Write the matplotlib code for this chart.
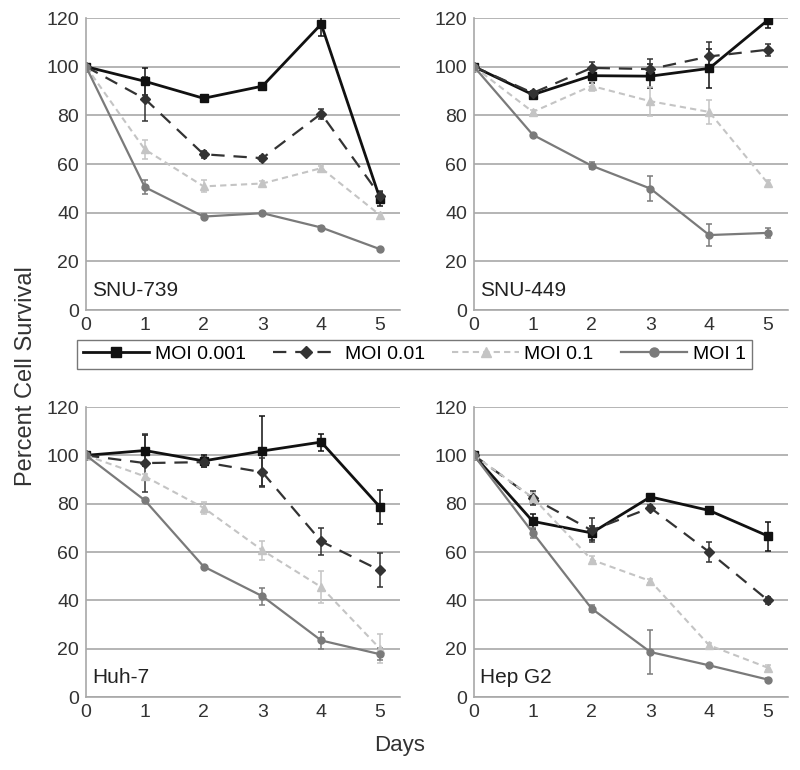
import matplotlib.pyplot as plt
from matplotlib.lines import Line2D

plt.rcParams['font.family'] = ['Liberation Sans', 'DejaVu Sans']

days = [0, 1, 2, 3, 4, 5]
series_names = ["MOI 0.001", "MOI 0.01", "MOI 0.1", "MOI 1"]
panel_names = ["SNU-739", "SNU-449", "Huh-7", "Hep G2"]

# SNU-739
snu739_moi0001 = [100, 94, 87, 92, 117.5, 45.7]
snu739_moi0001_err = [0, 5.5, 1, 1, 5, 3]
snu739_moi001 = [100, 86.8, 64, 62.4, 80.7, 47]
snu739_moi001_err = [0, 9, 1.5, 1, 2, 2]
snu739_moi01 = [100, 66, 50.8, 52, 58.3, 39]
snu739_moi01_err = [0, 4, 2.5, 1, 1, 1]
snu739_moi1 = [100, 50.5, 38.4, 39.8, 33.9, 25]
snu739_moi1_err = [0, 3, 1, 0.5, 0.5, 0.5]

# SNU-449
snu449_moi0001 = [100, 88.5, 96.3, 96.1, 99.3, 119.2]
snu449_moi0001_err = [0, 1, 3, 5, 8, 3.5]
snu449_moi001 = [100, 89.2, 99.5, 99, 104.2, 107]
snu449_moi001_err = [0, 1, 2.5, 4, 6, 2.5]
snu449_moi01 = [100, 81.4, 92.1, 85.8, 81.4, 52]
snu449_moi01_err = [0, 1, 2, 6, 5, 1.5]
snu449_moi1 = [100, 72, 59.3, 49.9, 30.8, 31.7]
snu449_moi1_err = [0, 0.5, 1.5, 5, 4.5, 2]

# Huh-7
huh7_moi0001 = [100, 102, 97.7, 101.8, 105.5, 78.6]
huh7_moi0001_err = [0, 6.3, 2.5, 14.6, 3.5, 7]
huh7_moi001 = [100, 96.8, 97.2, 93, 64.4, 52.4]
huh7_moi001_err = [0, 12, 2, 6, 5.5, 7]
huh7_moi01 = [100, 91.3, 78.3, 60.7, 45.5, 20]
huh7_moi01_err = [0, 1, 2.5, 4, 6.5, 6]
huh7_moi1 = [100, 81.4, 54, 41.7, 23.4, 17.7]
huh7_moi1_err = [0, 0.5, 0.5, 3.5, 3.5, 2.5]

# Hep G2
hepg2_moi0001 = [100, 72.7, 67.9, 82.8, 77.2, 66.6]
hepg2_moi0001_err = [0, 3, 3, 1, 1, 6]
hepg2_moi001 = [100, 82.3, 69, 78.3, 60, 40]
hepg2_moi001_err = [0, 3, 5, 1, 4, 1.5]
hepg2_moi01 = [100, 82.5, 56.8, 48, 21.4, 12.1]
hepg2_moi01_err = [0, 2, 1.5, 0.8, 1, 1]
hepg2_moi1 = [100, 68, 36.6, 18.6, 13.1, 7.2]
hepg2_moi1_err = [0, 2, 1.5, 9, 0.5, 0.5]

panels = [
    [(snu739_moi0001, snu739_moi0001_err), (snu739_moi001, snu739_moi001_err),
     (snu739_moi01, snu739_moi01_err), (snu739_moi1, snu739_moi1_err)],
    [(snu449_moi0001, snu449_moi0001_err), (snu449_moi001, snu449_moi001_err),
     (snu449_moi01, snu449_moi01_err), (snu449_moi1, snu449_moi1_err)],
    [(huh7_moi0001, huh7_moi0001_err), (huh7_moi001, huh7_moi001_err),
     (huh7_moi01, huh7_moi01_err), (huh7_moi1, huh7_moi1_err)],
    [(hepg2_moi0001, hepg2_moi0001_err), (hepg2_moi001, hepg2_moi001_err),
     (hepg2_moi01, hepg2_moi01_err), (hepg2_moi1, hepg2_moi1_err)],
]

styles = [
    dict(color='#111111', ls='-', marker='s', ms=6, lw=2.0),
    dict(color='#333333', ls=(0, (6, 4)), marker='D', ms=5, lw=1.6),
    dict(color='#c4c4c4', ls=(0, (3, 2)), marker='^', ms=5.5, lw=1.5),
    dict(color='#7a7a7a', ls='-', marker='o', ms=5, lw=1.6),
]

fig = plt.figure(figsize=(8, 7.7), dpi=100)
positions = [
    [0.1075, 0.5974, 0.3925, 0.3792],
    [0.5925, 0.5974, 0.3925, 0.3792],
    [0.1075, 0.0948, 0.3925, 0.3766],
    [0.5925, 0.0948, 0.3925, 0.3766],
]

for pos, name, data in zip(positions, panel_names, panels):
    ax = fig.add_axes(pos)
    for (vals, errs), st in zip(data, styles):
        ax.errorbar(days, vals, yerr=errs, color=st['color'], ls=st['ls'],
                    lw=st['lw'], marker=st['marker'], ms=st['ms'],
                    mec=st['color'], mfc=st['color'], ecolor=st['color'],
                    elinewidth=1.1, capsize=2.5, capthick=1.1)
    ax.set_xlim(0, 5.34)
    ax.set_ylim(0, 120)
    ax.set_xticks(days)
    ax.set_yticks(range(0, 121, 20))
    ax.yaxis.grid(True, color='#a8a8a8', lw=1.2)
    ax.set_axisbelow(True)
    for s in ['top', 'right']:
        ax.spines[s].set_visible(False)
    for s in ['left', 'bottom']:
        ax.spines[s].set_color('#a8a8a8')
        ax.spines[s].set_linewidth(1.2)
    ax.tick_params(length=0, labelsize=14, colors='#333333', pad=5)
    ax.text(0.1, 8, name, fontsize=15, color='#222222', va='center')

handles = [Line2D([], [], color=st['color'], ls=st['ls'], lw=st['lw'],
                  marker=st['marker'], ms=st['ms'] + 1.5, mec=st['color'],
                  mfc=st['color']) for st in styles]
fig.legend(handles, series_names, loc='center', bbox_to_anchor=(0.518, 0.54),
           ncol=4, fontsize=14, frameon=True, fancybox=False,
           edgecolor='#555555', handlelength=3.4, columnspacing=1.4,
           handletextpad=0.3, borderpad=0.3)

fig.text(0.032, 0.512, 'Percent Cell Survival', rotation=90, fontsize=17,
         color='#333333', ha='center', va='center')
fig.text(0.5, 0.032, 'Days', fontsize=16, color='#333333', ha='center', va='center')

fig.savefig('out.png', dpi=100)
